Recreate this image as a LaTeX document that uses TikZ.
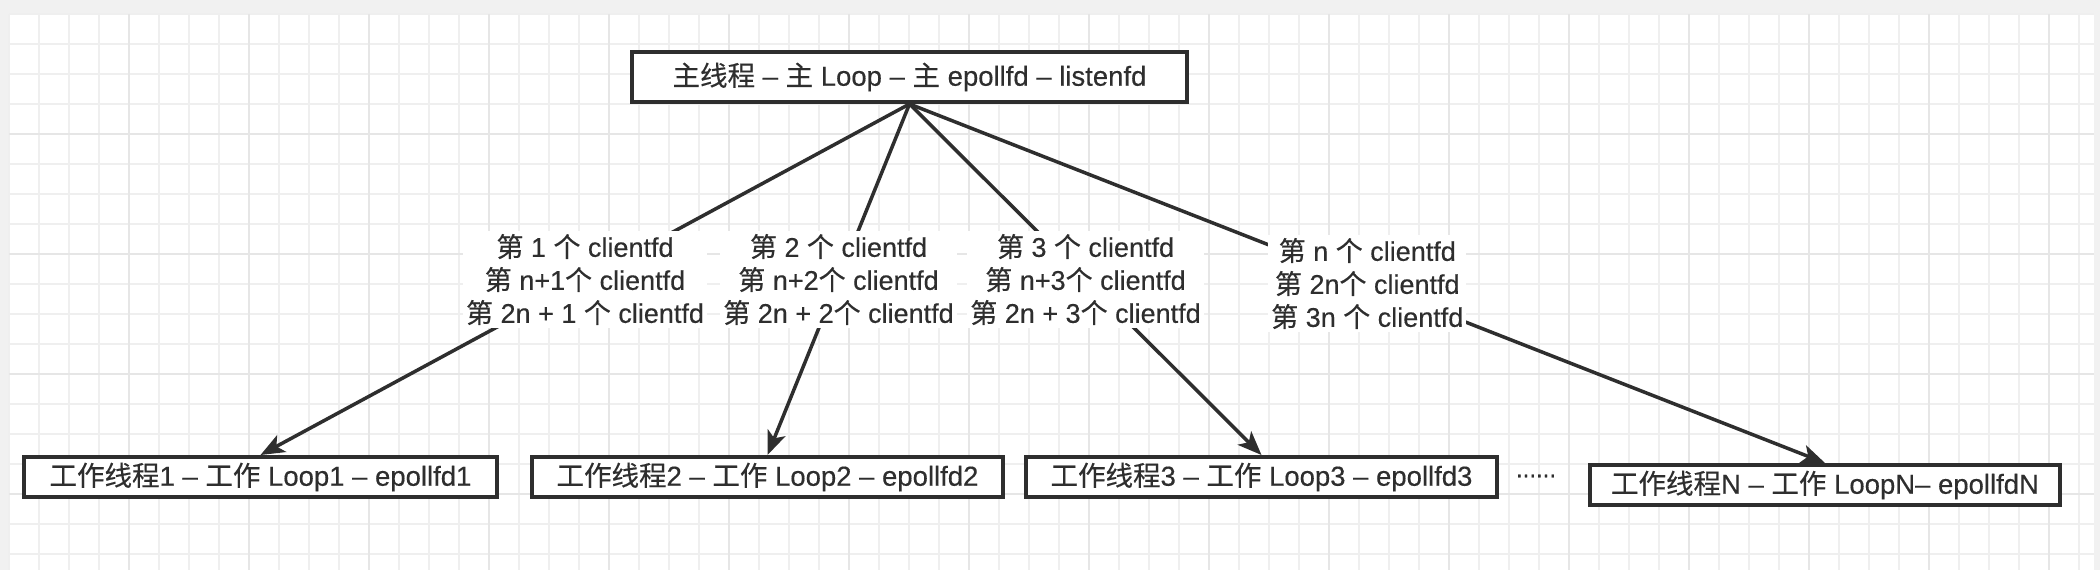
\documentclass[tikz,border=0pt]{standalone}
\usepackage{fontspec}
\setmainfont{Liberation Sans}[FakeBold=0.35]
\newfontfamily\cjkfont{Noto Sans CJK SC}[FakeBold=0.35]
\newcommand\zh[1]{{\cjkfont #1}}
\usetikzlibrary{arrows.meta}
\definecolor{ink}{HTML}{2E2E2E}
\definecolor{bggray}{HTML}{F1F1F1}
\definecolor{gridminor}{HTML}{EFEFEF}
\definecolor{gridmajor}{HTML}{E6E6E6}
\begin{document}
\begin{tikzpicture}[x=1pt,y=-1pt,
  box/.style={draw=ink, line width=4pt, fill=white, minimum height=40pt, inner sep=0pt,
              font=\fontsize{27.5}{32}\selectfont, text=ink},
  lbl/.style={fill=white, align=center, inner sep=3pt, text=ink,
              font=\fontsize{27}{33}\selectfont},
  conn/.style={draw=ink, line width=3.5pt, -{Stealth[length=24pt,width=19pt,inset=6pt]}},
  gmin/.style={draw=gridminor, line width=1.5pt},
  gmaj/.style={draw=gridmajor, line width=1.5pt}]
\useasboundingbox (0,0) rectangle (2100,570);
% canvas and grid
\fill[bggray] (0,0) rectangle (2100,570);
\fill[white] (9,14) rectangle (2094,570);
\foreach \x in {9,39,...,2094} \draw[gmin] (\x,14) -- (\x,570);
\foreach \y in {14,44,...,570} \draw[gmin] (9,\y) -- (2094,\y);
\foreach \x in {129,249,...,2094} \draw[gmaj] (\x,14) -- (\x,570);
\foreach \y in {134,254,...,570} \draw[gmaj] (9,\y) -- (2094,\y);
% nodes
\node[box, minimum width=555pt, minimum height=50pt] (main) at (909.5,77)
  {\zh{主线程} – \zh{主} Loop – \zh{主} epollfd – listenfd};
\node[box, minimum width=473pt] (w1) at (260.5,477) {\zh{工作线程}1 – \zh{工作} Loop1 – epollfd1};
\node[box, minimum width=471pt] (w2) at (767.5,477) {\zh{工作线程}2 – \zh{工作} Loop2 – epollfd2};
\node[box, minimum width=471pt] (w3) at (1261.5,477) {\zh{工作线程}3 – \zh{工作} Loop3 – epollfd3};
\node[box, minimum width=470pt] (wn) at (1825,485) {\zh{工作线程}N – \zh{工作} LoopN– epollfdN};
\node[text=ink, font=\fontsize{24}{28}\selectfont] (dots) at (1536,476) {......};
% connectors
\draw[conn] (main.south) -- node[lbl] (l1)
  {\zh{第} 1 \zh{个} clientfd\\\zh{第} n+1\zh{个} clientfd\\\zh{第} 2n + 1 \zh{个} clientfd} (w1.north);
\draw[conn] (main.south) -- node[lbl] (l2)
  {\zh{第} 2 \zh{个} clientfd\\\zh{第} n+2\zh{个} clientfd\\\zh{第} 2n + 2\zh{个} clientfd} (w2.north);
\draw[conn] (main.south) -- node[lbl] (l3)
  {\zh{第} 3 \zh{个} clientfd\\\zh{第} n+3\zh{个} clientfd\\\zh{第} 2n + 3\zh{个} clientfd} (w3.north);
\draw[conn] (main.south) -- node[lbl] (l4)
  {\zh{第} n \zh{个} clientfd\\\zh{第} 2n\zh{个} clientfd\\\zh{第} 3n \zh{个} clientfd} (wn.north);
\end{tikzpicture}
\end{document}
